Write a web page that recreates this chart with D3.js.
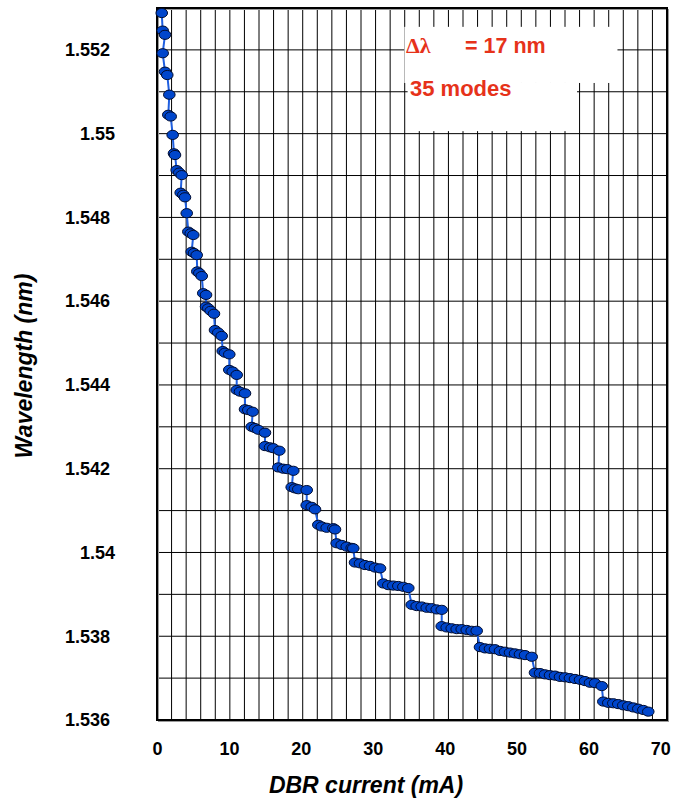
<!DOCTYPE html>
<html>
<head>
<meta charset="utf-8">
<script src="https://cdn.jsdelivr.net/npm/d3@7"></script>
<style>
  html, body { margin: 0; padding: 0; background: #fff; }
  svg { display: block; }
  text { font-family: "Liberation Sans", Arial, Helvetica, sans-serif; }
</style>
</head>
<body>
<svg id="chart" width="674" height="800"></svg>
<script>
// DBR current sweep (mA) and the measured lasing wavelength (µm) at each step
const dbrCurrent = [
  0.65,
  0.78, 1.10,
  0.78,
  1.10, 1.41,
  1.69,
  1.55, 1.88,
  2.15,
  2.33, 2.47,
  2.70, 3.06, 3.39,
  3.25, 3.61, 3.84,
  4.08,
  4.30, 4.63, 4.98,
  4.76, 5.08, 5.45,
  5.53, 5.81, 6.14,
  6.35, 6.73,
  6.73, 7.04, 7.37, 7.82,
  7.96, 8.41, 8.88,
  9.02, 9.33, 9.92,
  9.92, 10.39, 10.94,
  10.94, 11.39, 12.08,
  12.08, 12.53, 13.13,
  13.00, 13.45, 13.90, 14.82,
  14.82, 15.51, 15.96, 16.79,
  16.65, 17.33, 17.88, 18.71,
  18.49, 18.94, 19.39, 20.55,
  20.55, 21.23, 21.69,
  22.14, 22.61, 23.29, 24.20, 24.43,
  24.66, 25.35, 26.04, 26.72, 26.94,
  27.18, 27.86, 28.55, 29.23, 29.92, 30.61,
  31.06, 31.75, 32.43, 33.12, 33.81, 34.49,
  34.96, 35.64, 36.33, 37.02, 37.70, 38.39, 39.08,
  39.08, 39.76, 40.45, 41.13, 41.82, 42.51, 43.19, 43.88,
  44.33, 45.02, 45.70, 46.39, 47.08, 47.76, 48.45, 49.14, 49.82, 50.51, 51.43,
  51.88, 52.57, 53.25, 53.94, 54.63, 55.31, 56.00, 56.68, 57.37, 58.06, 58.74, 59.43, 60.12, 61.04,
  61.26, 61.94, 62.63, 63.31, 64.00, 64.69, 65.37, 66.06, 66.75, 67.43
];
const wavelength = [
  1.55288,
  1.55246, 1.55236,
  1.55192,
  1.55148, 1.55140,
  1.55093,
  1.55045, 1.55041,
  1.54997,
  1.54953, 1.54949,
  1.54913, 1.54907, 1.54901,
  1.54859, 1.54854, 1.54848,
  1.54810,
  1.54766, 1.54762, 1.54758,
  1.54718, 1.54715, 1.54710,
  1.54671, 1.54667, 1.54660,
  1.54619, 1.54615,
  1.54587, 1.54583, 1.54577, 1.54570,
  1.54531, 1.54525, 1.54517,
  1.54481, 1.54477, 1.54473,
  1.54436, 1.54432, 1.54424,
  1.54388, 1.54384, 1.54380,
  1.54342, 1.54340, 1.54336,
  1.54300, 1.54297, 1.54293, 1.54286,
  1.54254, 1.54251, 1.54249, 1.54243,
  1.54203, 1.54200, 1.54199, 1.54195,
  1.54156, 1.54153, 1.54151, 1.54149,
  1.54113, 1.54109, 1.54103,
  1.54066, 1.54062, 1.54059, 1.54058, 1.54055,
  1.54022, 1.54018, 1.54014, 1.54011, 1.54010,
  1.53976, 1.53974, 1.53970, 1.53968, 1.53964, 1.53962,
  1.53926, 1.53922, 1.53921, 1.53920, 1.53918, 1.53915,
  1.53875, 1.53872, 1.53871, 1.53868, 1.53867, 1.53864, 1.53863,
  1.53824, 1.53821, 1.53819, 1.53817, 1.53817, 1.53815, 1.53813, 1.53813,
  1.53774, 1.53771, 1.53770, 1.53769, 1.53765, 1.53763, 1.53761, 1.53759, 1.53757, 1.53755, 1.53751,
  1.53713, 1.53712, 1.53709, 1.53707, 1.53706, 1.53703, 1.53702, 1.53700, 1.53698, 1.53696, 1.53693, 1.53689, 1.53688, 1.53681,
  1.53644, 1.53641, 1.53640, 1.53638, 1.53635, 1.53633, 1.53630, 1.53627, 1.53624, 1.53620
];

// Axis tick labels
const xTickValues = [0, 10, 20, 30, 40, 50, 60, 70];
const yTickValues = [1.536, 1.538, 1.54, 1.542, 1.544, 1.546, 1.548, 1.55, 1.552];

// Annotation
const tuningRange = "= 17 nm";
const modeLabel = "35 modes";

const svg = d3.select("#chart");
const W = 674, H = 800;
const plot = { left: 157, right: 667, top: 8, bottom: 720 };

const x = d3.scaleLinear().domain([0, 70]).range([plot.left, plot.right]);
const y = d3.scaleLinear().domain([1.536, 1.553]).range([plot.bottom, plot.top]);

svg.append("rect").attr("width", W).attr("height", H).attr("fill", "#fff");

// Grid: every 2 mA and every 0.001 µm
const grid = svg.append("g").attr("stroke", "#000").attr("stroke-width", 1);
grid.selectAll("line.v")
  .data(x.ticks(35).filter(d => d > 0 && d < 70))
  .join("line")
  .attr("class", "v")
  .attr("x1", d => x(d)).attr("x2", d => x(d))
  .attr("y1", plot.top).attr("y2", plot.bottom);
grid.selectAll("line.h")
  .data(y.ticks(17).filter(d => d > 1.5361 && d < 1.5529))
  .join("line")
  .attr("class", "h")
  .attr("x1", plot.left).attr("x2", plot.right)
  .attr("y1", d => y(d)).attr("y2", d => y(d));

// Annotation boxes knock out the grid behind the text
const note = svg.append("g");
note.append("rect")
  .attr("x", x(33.95)).attr("y", y(1.55255))
  .attr("width", x(63.2) - x(33.95)).attr("height", y(1.55121) - y(1.55255))
  .attr("fill", "#fff");
note.append("rect")
  .attr("x", x(34.4)).attr("y", y(1.55121))
  .attr("width", x(57.65) - x(34.4)).attr("height", y(1.55006) - y(1.55121))
  .attr("fill", "#fff");
note.append("text")
  .attr("x", 406).attr("y", 53)
  .attr("fill", "#e6321a")
  .style("font-family", "'Liberation Serif', 'DejaVu Serif', serif")
  .style("font-weight", "bold").style("font-size", "22px")
  .text("Δλ");
note.append("text")
  .attr("x", 465).attr("y", 53)
  .attr("fill", "#e6321a")
  .style("font-weight", "bold").style("font-size", "21.5px")
  .text(tuningRange);
note.append("text")
  .attr("x", 410).attr("y", 96)
  .attr("fill", "#e6321a")
  .style("font-weight", "bold").style("font-size", "22px")
  .text(modeLabel);

// Frame
svg.append("rect")
  .attr("x", plot.left + 1.5).attr("y", plot.top + 1.5)
  .attr("width", plot.right - plot.left).attr("height", plot.bottom - plot.top)
  .attr("fill", "none").attr("stroke", "#9a9a9a").attr("stroke-width", 1);
svg.append("rect")
  .attr("x", plot.left).attr("y", plot.top)
  .attr("width", plot.right - plot.left).attr("height", plot.bottom - plot.top)
  .attr("fill", "none").attr("stroke", "#000").attr("stroke-width", 2);

// Axes
const xAxis = svg.append("g")
  .attr("transform", `translate(0,${plot.bottom})`)
  .call(d3.axisBottom(x).tickValues(xTickValues).tickSize(0).tickPadding(22).tickFormat(d => String(d)));
xAxis.select(".domain").remove();
// labels sit slightly inboard so the last one stays inside the page
xAxis.selectAll(".tick text")
  .attr("dx", d => -(x(d) - plot.left) * 0.013)
  .attr("fill", "#000")
  .style("font-family", "'Liberation Sans', Arial, sans-serif")
  .style("font-weight", "bold").style("font-size", "18px");

const yAxis = svg.append("g")
  .attr("transform", `translate(${plot.left},0)`)
  .call(d3.axisLeft(y).tickValues(yTickValues).tickSize(0).tickPadding(47).tickFormat(d => String(d)));
yAxis.select(".domain").remove();
yAxis.selectAll("text")
  .attr("fill", "#000")
  .attr("x", d => String(d).length < 5 ? -42 : -47)
  .style("font-family", "'Liberation Sans', Arial, sans-serif")
  .style("font-weight", "bold").style("font-size", "18px");

// Axis titles
svg.append("text")
  .attr("x", 366).attr("y", 793)
  .attr("text-anchor", "middle")
  .style("font-weight", "bold").style("font-style", "italic").style("font-size", "23px")
  .text("DBR current (mA)");
svg.append("text")
  .attr("transform", "translate(32,366) rotate(-90)")
  .attr("text-anchor", "middle")
  .style("font-weight", "bold").style("font-style", "italic").style("font-size", "23px")
  .text("Wavelength (nm)");

// Tuning curve
const points = dbrCurrent.map((c, i) => ({ c, w: wavelength[i] }));
svg.append("path")
  .datum(points)
  .attr("fill", "none")
  .attr("stroke", "#1f5fe0")
  .attr("stroke-width", 2)
  .attr("d", d3.line().x(d => x(d.c)).y(d => y(d.w)));

svg.append("g")
  .selectAll("ellipse")
  .data(points)
  .join("ellipse")
  .attr("cx", d => x(d.c))
  .attr("cy", d => y(d.w))
  .attr("rx", 5.8).attr("ry", 4.6)
  .attr("fill", "#0046cc")
  .attr("stroke", "#000c30")
  .attr("stroke-width", 1);
</script>
</body>
</html>
